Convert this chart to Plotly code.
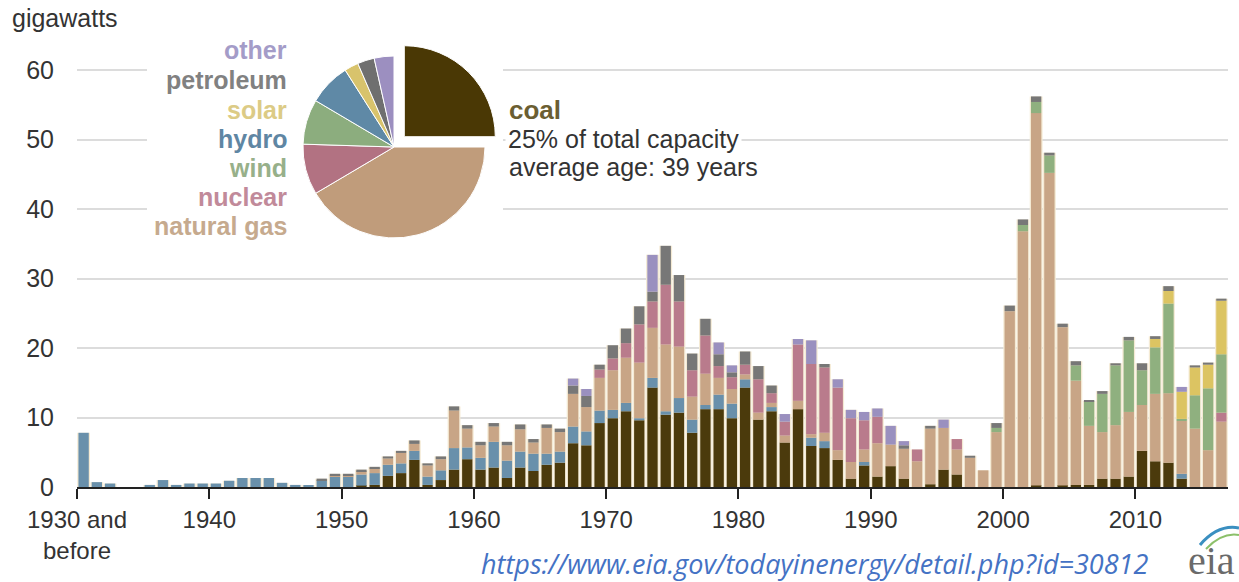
import numpy as np
import plotly.graph_objects as go

# ---------------- data ----------------
years = list(range(1930, 2017))

coal = [0, 0, 0, 0, 0, 0, 0, 0, 0, 0,
        0, 0, 0, 0, 0, 0, 0, 0, 0, 0,
        0, 0.2, 0.3, 1.6, 2.0, 3.9, 0.3, 1.0, 2.5, 4.0,
        2.5, 2.8, 1.3, 2.8, 2.3, 3.2, 3.5, 6.3, 6.0, 9.2,
        9.9, 10.9, 9.6, 14.3, 10.4, 10.7, 7.8, 11.2, 11.2, 9.9,
        14.3, 9.7, 10.9, 6.4, 11.2, 5.9, 5.6, 3.9, 1.2, 3.1,
        1.5, 3.0, 1.2, 0, 0.4, 2.5, 1.8, 0, 0, 0,
        0, 0, 0.2, 0, 0.2, 0.3, 0.3, 1.2, 1.2, 1.5,
        5.2, 3.7, 3.5, 1.2, 0, 0, 0]

hydro = [7.8, 0.7, 0.5, 0, 0, 0.3, 1.0, 0.3, 0.5, 0.5,
         0.5, 0.9, 1.3, 1.3, 1.3, 0.6, 0.3, 0.2, 1.0, 1.5,
         1.5, 1.6, 1.7, 1.6, 1.4, 1.3, 1.2, 1.4, 3.1, 1.7,
         1.7, 3.7, 2.5, 2.3, 2.5, 1.6, 1.6, 2.4, 2.0, 1.8,
         1.2, 1.2, 0.3, 1.4, 0.5, 2.1, 1.9, 0.6, 2.1, 2.1,
         1.2, 0, 0.6, 0, 0, 1.2, 1.0, 0, 0, 0.5,
         0, 0, 0, 0, 0, 0, 0, 0, 0, 0,
         0, 0, 0, 0, 0, 0, 0, 0, 0, 0,
         0, 0, 0, 0.7, 0, 0, 0]

natural_gas = [0, 0, 0, 0, 0, 0, 0, 0, 0, 0,
               0, 0, 0, 0, 0, 0, 0, 0, 0, 0.2,
               0.2, 0.5, 0.7, 0.9, 1.5, 1.0, 1.6, 1.6, 5.4, 2.7,
               1.8, 2.2, 2.2, 3.2, 1.6, 3.7, 2.8, 4.7, 3.5, 4.7,
               5.7, 6.5, 8.0, 7.2, 9.6, 7.4, 3.3, 4.5, 2.4, 2.1,
               0.7, 1.0, 0.6, 1.0, 1.2, 0.5, 1.2, 1.4, 2.4, 1.8,
               4.8, 3.1, 4.3, 3.7, 8.0, 6.0, 3.6, 4.2, 2.4, 7.9,
               25.3, 36.8, 53.6, 45.2, 22.8, 15.0, 8.5, 6.7, 7.7, 9.3,
               6.6, 9.7, 10.0, 7.6, 8.4, 5.3, 9.4]

nuclear = [0, 0, 0, 0, 0, 0, 0, 0, 0, 0,
           0, 0, 0, 0, 0, 0, 0, 0, 0, 0,
           0, 0, 0, 0, 0, 0, 0, 0, 0, 0,
           0, 0, 0, 0, 0, 0, 0, 0, 0, 1.2,
           1.7, 2.1, 5.5, 3.8, 8.6, 6.5, 3.8, 5.5, 1.7, 1.7,
           1.4, 4.8, 1.4, 2.0, 8.1, 10.1, 9.4, 9.0, 6.3, 4.2,
           3.8, 0, 0, 1.7, 0, 0, 1.5, 0, 0, 0,
           0, 0, 0, 0, 0, 0, 0, 0, 0, 0,
           0, 0, 0, 0, 0, 0, 1.3]

wind = [0, 0, 0, 0, 0, 0, 0, 0, 0, 0,
        0, 0, 0, 0, 0, 0, 0, 0, 0, 0,
        0, 0, 0, 0, 0, 0, 0, 0, 0, 0,
        0, 0, 0, 0, 0, 0, 0, 0, 0, 0,
        0, 0, 0, 0, 0, 0, 0, 0, 0, 0,
        0, 0, 0, 0, 0, 0, 0, 0, 0, 0,
        0, 0, 0, 0, 0, 0, 0, 0, 0, 0.6,
        0, 0.9, 1.6, 2.5, 0, 2.2, 3.5, 5.5, 8.6, 10.3,
        5.0, 6.7, 12.9, 0.3, 4.8, 8.9, 8.4]

solar = [0] * 80 + [0, 1.2, 1.8, 3.9, 4.0, 3.4, 7.7]

petroleum = [0, 0, 0, 0, 0, 0, 0, 0, 0, 0,
             0, 0, 0, 0, 0, 0, 0, 0, 0.2, 0.2,
             0.2, 0.2, 0.2, 0.3, 0.3, 0.5, 0.3, 0.4, 0.6, 0.5,
             0.5, 0.5, 0.5, 0.7, 0.5, 0.5, 0.5, 1.2, 1.6, 0.7,
             1.9, 2.1, 2.6, 1.4, 5.6, 3.8, 2.4, 2.4, 1.7, 0.7,
             1.9, 1.9, 1.1, 0, 0, 0, 0.5, 0, 0, 0,
             0, 0, 0.5, 0, 0.4, 0, 0, 0.3, 0, 0.7,
             0.8, 0.8, 0.8, 0.4, 0.5, 0.6, 0.1, 0.4, 0.3, 0.5,
             1.0, 0.4, 0.7, 0, 0.3, 0.3, 0.3]

other = [0, 0, 0, 0, 0, 0, 0, 0, 0, 0,
         0, 0, 0, 0, 0, 0, 0, 0, 0, 0,
         0, 0, 0, 0, 0, 0, 0, 0, 0, 0,
         0, 0, 0, 0, 0, 0, 0, 1.0, 1.0, 0,
         0, 0, 0, 5.3, 0, 0, 0, 0, 1.7, 1.0,
         0, 0, 0, 1.1, 0.8, 3.4, 0, 1.2, 1.2, 1.2,
         1.2, 2.7, 0.6, 0, 0, 1.2, 0, 0, 0, 0,
         0, 0, 0, 0, 0, 0, 0, 0, 0, 0,
         0, 0, 0, 0.7, 0, 0, 0]

decade_years = [1930, 1940, 1950, 1960, 1970, 1980, 1990, 2000, 2010]
decade_labels = ["1930 and<br>before", "1940", "1950", "1960", "1970",
                 "1980", "1990", "2000", "2010"]
y_ticks = [0, 10, 20, 30, 40, 50, 60]

pie_labels = ["coal", "natural gas", "nuclear", "wind", "hydro", "solar", "petroleum", "other"]
pie_shares = [25, 41.5, 9, 8, 7.5, 2.5, 3, 3.5]

# ---------------- styling ----------------
stack_names = ["coal", "hydro", "natural gas", "nuclear", "wind", "solar", "petroleum", "other"]
stack_values = [coal, hydro, natural_gas, nuclear, wind, solar, petroleum, other]
bar_colors = {"coal": "#4b3a0c", "hydro": "#6990ab", "natural gas": "#c8a586",
              "nuclear": "#b97b8c", "wind": "#8fb07f", "solar": "#dcc462",
              "petroleum": "#777777", "other": "#9a90bf"}
pie_colors = {"coal": "#4a3805", "natural gas": "#c09c7b", "nuclear": "#b27282",
              "wind": "#8cad7e", "hydro": "#5f89a6", "solar": "#d8c36c",
              "petroleum": "#6f6f6f", "other": "#9c8fc0"}
legend_text_colors = {"other": "#a49cc8", "petroleum": "#818181", "solar": "#dccb86",
                      "hydro": "#5f86a3", "wind": "#97b08a", "nuclear": "#c18a9a",
                      "natural gas": "#c6aa8e"}

W, H = 1239, 582
ML, MR, MT, MB = 77, 11, 30, 95
PW, PH = W - ML - MR, H - MT - MB
X0, X1 = years[0] - 0.5, years[-1] + 0.5
PX_60 = 70
YTOP = 60 * PH / ((H - MB) - PX_60)


def fx(px):
    return (px - ML) / PW


def fy(py):
    return (H - MB - py) / PH


def dx(px):
    return X0 + (px - ML) / PW * (X1 - X0)


def dy(py):
    return (H - MB - py) / PH * YTOP


fig = go.Figure()

totals = np.sum(np.array(stack_values, dtype=float), axis=0)
fig.add_bar(x=years, y=totals, width=0.97, marker=dict(color="#f4ead4", line_width=0),
            hoverinfo="skip", showlegend=False)
base = np.zeros(len(years))
for name, vals in zip(stack_names, stack_values):
    v = np.array(vals, dtype=float)
    fig.add_bar(x=years, y=v, base=base.copy(), width=0.78, name=name,
                marker=dict(color=bar_colors[name], line_width=0), showlegend=False)
    base += v

# pie
R = 91
PULL = 0.16
half = R * (1 + PULL)
cx, cy = 394, 147
fig.add_pie(labels=pie_labels, values=pie_shares, sort=False, direction="clockwise",
            rotation=0, pull=[PULL] + [0] * (len(pie_labels) - 1),
            marker=dict(colors=[pie_colors[l] for l in pie_labels], line=dict(color="white", width=1)),
            textinfo="none", hoverinfo="label+percent", showlegend=False,
            domain=dict(x=[fx(cx - half), fx(cx + half)], y=[fy(cy + half), fy(cy - half)]))

# white panel behind pie hides gridlines
fig.add_shape(type="rect", xref="x", yref="y", x0=dx(147), x1=dx(503), y0=dy(245), y1=dy(35),
              fillcolor="white", line_width=0, layer="between")

# eia logo swoosh
fig.add_shape(type="path", xref="paper", yref="paper",
              path="M %f,%f Q %f,%f %f,%f" % (fx(1200), fy(545), fx(1218), fy(524), fx(1239), fy(528)),
              line=dict(color="#3a8fc0", width=3))
fig.add_shape(type="path", xref="paper", yref="paper",
              path="M %f,%f Q %f,%f %f,%f" % (fx(1206), fy(549), fx(1222), fy(532), fx(1239), fy(535)),
              line=dict(color="#8cc06a", width=2))

annotations = []
legend_rows = [("other", 50), ("petroleum", 80), ("solar", 110), ("hydro", 139),
               ("wind", 168), ("nuclear", 197), ("natural gas", 226)]
for lab, ypix in legend_rows:
    annotations.append(dict(text="<b>%s</b>" % lab, x=fx(289), y=fy(ypix), xref="paper", yref="paper",
                            xanchor="right", yanchor="middle", showarrow=False,
                            font=dict(size=25, color=legend_text_colors[lab], family="Liberation Sans")))
annotations.append(dict(text="<b>coal</b>", x=fx(507), y=fy(110), xref="paper", yref="paper",
                        xanchor="left", yanchor="middle", showarrow=False,
                        font=dict(size=26, color="#6b5e32", family="Liberation Sans")))
annotations.append(dict(text="25% of total capacity", x=fx(505), y=fy(139), xref="paper", yref="paper",
                        xanchor="left", yanchor="middle", showarrow=False, bgcolor="white", borderpad=2,
                        font=dict(size=25, color="#333333", family="Liberation Sans")))
annotations.append(dict(text="average age: 39 years", x=fx(507), y=fy(167), xref="paper", yref="paper",
                        xanchor="left", yanchor="middle", showarrow=False,
                        font=dict(size=25, color="#333333", family="Liberation Sans")))
annotations.append(dict(text="gigawatts", x=fx(10), y=fy(18), xref="paper", yref="paper",
                        xanchor="left", yanchor="middle", showarrow=False,
                        font=dict(size=25, color="#333333", family="Liberation Sans")))
annotations.append(dict(text="<i>https://www.eia.gov/todayinenergy/detail.php?id=30812</i>",
                        x=fx(479), y=fy(563), xref="paper", yref="paper",
                        xanchor="left", yanchor="middle", showarrow=False,
                        font=dict(size=27, color="#4472c4", family="Open Sans")))
annotations.append(dict(text="eia", x=fx(1186), y=fy(560), xref="paper", yref="paper",
                        xanchor="left", yanchor="middle", showarrow=False,
                        font=dict(size=40, color="#6a6a6a", family="Liberation Serif")))

fig.update_layout(
    width=W, height=H, margin=dict(l=ML, r=MR, t=MT, b=MB),
    paper_bgcolor="white", plot_bgcolor="white",
    barmode="overlay", showlegend=False,
    font=dict(family="Liberation Sans, Arial, sans-serif", color="#333333"),
    annotations=annotations,
)
fig.update_xaxes(range=[X0, X1], tickvals=[d - 0.5 for d in decade_years], ticktext=decade_labels,
                 ticks="outside", ticklen=10, tickwidth=2, tickcolor="#222222",
                 showline=True, linecolor="#222222", linewidth=2, showgrid=False, zeroline=False,
                 tickfont=dict(size=24, color="#333333"))
fig.update_yaxes(range=[0, YTOP], tickvals=y_ticks, showgrid=True, gridcolor="#dcdcdc", gridwidth=2,
                 zeroline=False, showline=False, ticks="", ticklabelstandoff=22,
                 tickfont=dict(size=25, color="#333333"))

fig.write_html("out.html")
